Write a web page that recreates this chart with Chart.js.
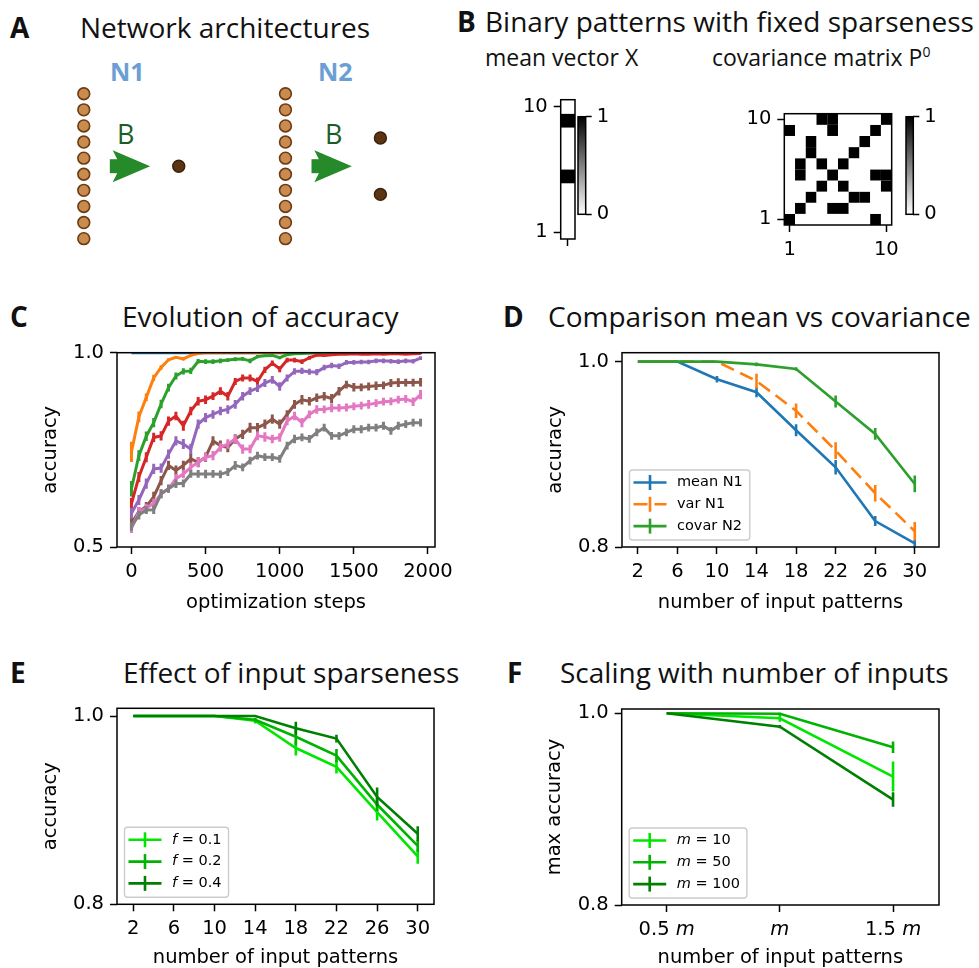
<!DOCTYPE html>
<html>
<head>
<meta charset="utf-8">
<title>Network accuracy figure</title>
<script src="https://cdn.jsdelivr.net/npm/chart.js@4.4.1/dist/chart.umd.min.js"></script>
<style>
  body { margin: 0; background: #fff; }
  #fig { position: relative; width: 979px; height: 968px; overflow: hidden; background: #fff; }
  #fig canvas { position: absolute; }
  .t { position: absolute; font-family: 'Open Sans', sans-serif; font-size: 28px; line-height: 28px; color: #111; white-space: nowrap; }
  .lt { font-weight: 700; }
  .sub { font-size: 23px; line-height: 23px; }
  .sub sup { font-size: 14px; vertical-align: 9px; line-height: 0; }
  .net { font-weight: 700; font-size: 25px; line-height: 25px; color: #6b9fd4; }
  .bw { font-size: 27px; line-height: 27px; color: #1d5c29; }
</style>
</head>
<body>
<div id="fig">
  <div class="t lt" style="left:10px;top:13px">A</div>
  <div class="t" style="left:80px;top:13px">Network architectures</div>
  <div class="t net" style="left:110px;top:59px">N1</div>
  <div class="t net" style="left:318px;top:59px">N2</div>
  <div class="t bw" style="left:117px;top:120px">B</div>
  <div class="t bw" style="left:325px;top:120px">B</div>

  <div class="t lt" style="left:457px;top:7px">B</div>
  <div class="t" style="left:485px;top:7px">Binary patterns with fixed sparseness</div>
  <div class="t sub" style="left:485px;top:46px">mean vector X</div>
  <div class="t sub" style="left:712px;top:46px">covariance matrix P<sup>0</sup></div>

  <div class="t lt" style="left:10px;top:302px">C</div>
  <div class="t" style="left:122px;top:302px">Evolution of accuracy</div>
  <div class="t lt" style="left:503px;top:302px">D</div>
  <div class="t" style="left:548px;top:302px">Comparison mean vs covariance</div>

  <div class="t lt" style="left:10px;top:658px">E</div>
  <div class="t" style="left:123px;top:658px">Effect of input sparseness</div>
  <div class="t lt" style="left:507px;top:658px">F</div>
  <div class="t" style="left:560px;top:658px">Scaling with number of inputs</div>
</div>
<script>
// ---------- data ----------

// A: network diagrams (layer units, one unit = neuron spacing)
const inputRows = [0, 1, 2, 3, 4, 5, 6, 7, 8, 9];
const inputColumns = [0, 12];
const outputN1 = [{ x: 5.65, y: 4.5 }];
const outputN2 = [{ x: 17.65, y: 6.25 }, { x: 17.65, y: 2.75 }];
const arrowSpans = [{ from: 1.55, to: 3.95, y: 4.5 }, { from: 13.55, to: 15.95, y: 4.5 }];

// B: binary mean vector (row 1 first) and covariance matrix (row 1 first)
const meanVector = [0, 0, 0, 0, 1, 0, 0, 0, 1, 0];
const covMatrix = [
  [1, 0, 0, 0, 0, 0, 0, 0, 1, 0],
  [0, 1, 0, 0, 1, 1, 0, 0, 0, 0],
  [0, 0, 1, 0, 0, 0, 1, 1, 0, 0],
  [0, 0, 0, 1, 0, 1, 0, 0, 0, 1],
  [0, 1, 0, 0, 1, 0, 0, 0, 1, 1],
  [0, 1, 0, 1, 0, 1, 0, 0, 0, 0],
  [0, 0, 1, 0, 0, 0, 1, 0, 0, 0],
  [0, 0, 1, 0, 0, 0, 0, 1, 0, 0],
  [1, 0, 0, 0, 1, 0, 0, 0, 1, 0],
  [0, 0, 0, 1, 1, 0, 0, 0, 0, 1]
];

// C: accuracy during optimization, one curve per pattern count
const optSteps = [0, 50, 100, 150, 200, 250, 300, 350, 400, 450, 500, 550, 600, 650, 700, 750, 800, 850, 900, 950,
  1000, 1050, 1100, 1150, 1200, 1250, 1300, 1350, 1400, 1450, 1500, 1550, 1600, 1650, 1700, 1750, 1800, 1850, 1900, 1950];
const accBlue = [1, 1, 1, 1, 1, 1, 1, 1, 1, 1, 1, 1, 1, 1, 1, 1, 1, 1, 1, 1, 1, 1, 1, 1, 1, 1, 1, 1, 1, 1, 1, 1, 1, 1, 1, 1, 1, 1, 1, 1];
const accOrange = [0.745, 0.835, 0.885, 0.935, 0.962, 0.982, 0.988, 0.984, 0.993, 0.998, 1, 1, 1, 1, 1, 1, 1, 1, 1, 1,
  1, 1, 1, 1, 1, 1, 1, 1, 1, 1, 1, 1, 1, 1, 1, 1, 1, 1, 1, 1];
const accGreen = [0.650, 0.735, 0.785, 0.820, 0.868, 0.910, 0.940, 0.952, 0.953, 0.978, 0.977, 0.977, 0.979, 0.981, 0.983, 0.984, 0.979, 0.990, 0.992, 0.993,
  0.987, 0.995, 0.997, 0.998, 0.999, 1, 1, 1, 1, 1, 1, 1, 1, 1, 1, 1, 1, 1, 1, 1];
const accRed = [0.612, 0.680, 0.731, 0.782, 0.786, 0.824, 0.837, 0.812, 0.850, 0.875, 0.879, 0.888, 0.901, 0.888, 0.926, 0.935, 0.935, 0.926, 0.956, 0.973,
  0.958, 0.981, 0.981, 0.977, 0.987, 0.994, 0.993, 0.995, 0.996, 0.996, 0.997, 0.996, 0.996, 0.997, 0.996, 0.997, 0.997, 0.996, 0.997, 0.998];
const accPurple = [0.587, 0.621, 0.663, 0.701, 0.703, 0.739, 0.773, 0.765, 0.752, 0.816, 0.833, 0.841, 0.850, 0.854, 0.867, 0.888, 0.901, 0.909, 0.922, 0.930,
  0.913, 0.935, 0.952, 0.953, 0.951, 0.950, 0.962, 0.967, 0.965, 0.975, 0.975, 0.976, 0.976, 0.979, 0.979, 0.978, 0.977, 0.979, 0.978, 0.986];
const accBrown = [0.561, 0.591, 0.604, 0.629, 0.671, 0.710, 0.697, 0.710, 0.727, 0.718, 0.731, 0.773, 0.761, 0.756, 0.778, 0.790, 0.807, 0.807, 0.816, 0.829,
  0.816, 0.841, 0.867, 0.879, 0.875, 0.884, 0.888, 0.882, 0.901, 0.918, 0.911, 0.911, 0.913, 0.915, 0.916, 0.922, 0.923, 0.923, 0.923, 0.924];
const accPink = [0.548, 0.591, 0.600, 0.612, 0.637, 0.650, 0.676, 0.688, 0.705, 0.718, 0.731, 0.735, 0.756, 0.765, 0.778, 0.752, 0.752, 0.786, 0.783, 0.778,
  0.782, 0.824, 0.837, 0.820, 0.841, 0.854, 0.854, 0.858, 0.858, 0.859, 0.862, 0.864, 0.867, 0.870, 0.874, 0.875, 0.879, 0.881, 0.874, 0.892];
const accGray = [0.553, 0.582, 0.595, 0.596, 0.637, 0.650, 0.663, 0.664, 0.688, 0.688, 0.688, 0.688, 0.687, 0.693, 0.710, 0.705, 0.722, 0.735, 0.731, 0.731,
  0.727, 0.761, 0.778, 0.782, 0.778, 0.795, 0.807, 0.786, 0.786, 0.795, 0.803, 0.803, 0.807, 0.807, 0.812, 0.799, 0.812, 0.816, 0.820, 0.820];

const errBlue = [0, 0, 0, 0, 0, 0, 0, 0, 0, 0, 0, 0, 0, 0, 0, 0, 0, 0, 0, 0, 0, 0, 0, 0, 0, 0, 0, 0, 0, 0, 0, 0, 0, 0, 0, 0, 0, 0, 0, 0];
const errOrange = [0.026, 0.014, 0.010, 0.008, 0.006, 0.004, 0.003, 0.004, 0.002, 0.001, 0, 0, 0, 0, 0, 0, 0, 0, 0, 0,
  0, 0, 0, 0, 0, 0, 0, 0, 0, 0, 0, 0, 0, 0, 0, 0, 0, 0, 0, 0];
const errGreen = [0.020, 0.014, 0.012, 0.012, 0.011, 0.010, 0.009, 0.008, 0.008, 0.006, 0.006, 0.006, 0.006, 0.005, 0.005, 0.005, 0.006, 0.004, 0.003, 0.003,
  0.004, 0.002, 0.002, 0.001, 0.001, 0, 0, 0, 0, 0, 0, 0, 0, 0, 0, 0, 0, 0, 0, 0];
const errRed = [0.014, 0.013, 0.013, 0.012, 0.012, 0.012, 0.011, 0.013, 0.011, 0.011, 0.011, 0.010, 0.010, 0.011, 0.009, 0.009, 0.009, 0.010, 0.008, 0.007,
  0.008, 0.006, 0.006, 0.006, 0.005, 0.003, 0.003, 0.003, 0.002, 0.002, 0.002, 0.002, 0.002, 0.002, 0.002, 0.002, 0.002, 0.002, 0.002, 0.002];
const errPurple = [0.014, 0.013, 0.013, 0.013, 0.012, 0.012, 0.012, 0.013, 0.014, 0.012, 0.012, 0.011, 0.011, 0.011, 0.011, 0.011, 0.010, 0.010, 0.010, 0.010,
  0.011, 0.009, 0.008, 0.008, 0.008, 0.008, 0.007, 0.007, 0.007, 0.006, 0.006, 0.006, 0.006, 0.006, 0.006, 0.006, 0.006, 0.006, 0.006, 0.005];
const errBrown = [0.013, 0.012, 0.012, 0.013, 0.012, 0.012, 0.013, 0.012, 0.012, 0.013, 0.012, 0.012, 0.013, 0.012, 0.012, 0.012, 0.013, 0.012, 0.012, 0.012,
  0.012, 0.011, 0.011, 0.012, 0.011, 0.011, 0.011, 0.012, 0.011, 0.010, 0.011, 0.010, 0.010, 0.011, 0.010, 0.010, 0.011, 0.010, 0.010, 0.011];
const errPink = [0.012, 0.012, 0.011, 0.012, 0.012, 0.011, 0.012, 0.011, 0.012, 0.012, 0.011, 0.012, 0.011, 0.012, 0.011, 0.012, 0.011, 0.011, 0.012, 0.011,
  0.011, 0.011, 0.011, 0.012, 0.010, 0.011, 0.010, 0.011, 0.010, 0.010, 0.010, 0.010, 0.011, 0.010, 0.010, 0.010, 0.010, 0.010, 0.011, 0.012];
const errGray = [0.011, 0.011, 0.010, 0.011, 0.011, 0.010, 0.011, 0.010, 0.010, 0.010, 0.011, 0.010, 0.010, 0.010, 0.011, 0.010, 0.010, 0.010, 0.010, 0.010,
  0.010, 0.010, 0.011, 0.010, 0.010, 0.010, 0.010, 0.010, 0.010, 0.010, 0.010, 0.010, 0.010, 0.010, 0.010, 0.010, 0.010, 0.010, 0.010, 0.010];

// D: mean vs covariance decoding
const patternCounts = [2, 6, 10, 14, 18, 22, 26, 30];
const meanN1 = [1.0, 1.0, 0.981, 0.967, 0.926, 0.886, 0.828, 0.804];
const meanN1Err = [0, 0, 0.0036, 0.0054, 0.0064, 0.0079, 0.0054, 0.0036];
const varN1 = [1.0, 1.0, 1.0, 0.979, 0.947, 0.904, 0.858, 0.817];
const varN1Err = [0, 0, 0, 0.0079, 0.0079, 0.009, 0.009, 0.010];
const covarN2 = [1.0, 1.0, 1.0, 0.997, 0.992, 0.957, 0.922, 0.868];
const covarN2Err = [0, 0, 0, 0.002, 0.002, 0.0064, 0.0064, 0.009];

// E: input sparseness f
const sparseF01 = [1.0, 1.0, 1.0, 0.995, 0.966, 0.946, 0.898, 0.851];
const sparseF01Err = [0, 0, 0, 0.003, 0.008, 0.007, 0.009, 0.008];
const sparseF02 = [1.0, 1.0, 1.0, 0.996, 0.978, 0.958, 0.906, 0.862];
const sparseF02Err = [0, 0, 0, 0.002, 0.009, 0.007, 0.007, 0.0064];
const sparseF04 = [1.0, 1.0, 1.0, 1.0, 0.987, 0.976, 0.914, 0.875];
const sparseF04Err = [0, 0, 0, 0, 0.007, 0.0042, 0.010, 0.008];

// F: scaling with number of inputs m (pattern count relative to m)
const relPatterns = [0.5, 1.0, 1.5];
const maxAccM10 = [1.0, 0.9948, 0.934];
const maxAccM10Err = [0, 0.0035, 0.0156];
const maxAccM50 = [1.0, 0.9995, 0.9646];
const maxAccM50Err = [0, 0.001, 0.006];
const maxAccM100 = [1.0, 0.986, 0.910];
const maxAccM100Err = [0, 0.0017, 0.0076];

const tab10 = ['#1f77b4', '#ff7f0e', '#2ca02c', '#d62728', '#9467bd', '#8c564b', '#e377c2', '#7f7f7f'];
const greens = ['#00e600', '#00b300', '#008000'];

// ---------- chart setup ----------
Chart.defaults.font.family = "'DejaVu Sans', sans-serif";
Chart.defaults.color = '#000';
Chart.defaults.animation = false;
Chart.defaults.responsive = false;
Chart.defaults.devicePixelRatio = 1;
Chart.defaults.plugins.legend.display = false;
Chart.defaults.plugins.tooltip.enabled = false;

const TICK_FONT = { family: "'DejaVu Sans', sans-serif", size: 19.5, lineHeight: 1.2 };

function addCanvas(left, top, w, h) {
  const c = document.createElement('canvas');
  c.width = w; c.height = h;
  c.style.left = left + 'px'; c.style.top = top + 'px';
  c.style.width = w + 'px'; c.style.height = h + 'px';
  document.getElementById('fig').appendChild(c);
  return c;
}

// linear axis with fixed tick list and a fixed box size, so the plot area lands where wanted
function axis(o) {
  const horizontal = o.pos === 'bottom' || o.pos === 'top';
  return {
    type: 'linear', position: o.pos, min: o.min, max: o.max, display: true,
    afterBuildTicks: s => { s.ticks = o.ticks.map(v => ({ value: v })); },
    afterFit: s => { if (horizontal) s.height = o.size; else s.width = o.size; },
    grid: { display: true, drawOnChartArea: false, drawTicks: true, tickLength: o.tickLen || 7, tickWidth: 1.5, tickColor: '#000' },
    border: { display: false },
    ticks: {
      font: TICK_FONT, color: '#000', padding: o.pad == null ? 6 : o.pad,
      maxRotation: 0, minRotation: 0, autoSkip: false,
      callback: o.fmt || (v => String(v))
    },
    title: o.title
      ? { display: true, text: o.title, color: '#000', font: { size: 19.5, lineHeight: 1 }, padding: o.titlePad }
      : { display: false }
  };
}

const hidden = (min, max) => ({ type: 'linear', min, max, display: false });

// box around the plot area
const frame = {
  id: 'frame',
  afterDraw(chart) {
    const { ctx, chartArea: a } = chart;
    ctx.save();
    ctx.strokeStyle = '#000';
    ctx.lineWidth = 1.5;
    ctx.strokeRect(a.left, a.top, a.width, a.height);
    ctx.restore();
  }
};

// vertical error bars read from dataset.errors
const errorBars = {
  id: 'errorBars',
  afterDatasetDraw(chart, args) {
    const ds = chart.data.datasets[args.index];
    if (!ds.errors) return;
    const { ctx, chartArea: a, scales: { x, y } } = chart;
    ctx.save();
    ctx.beginPath();
    ctx.rect(a.left, a.top, a.width, a.height);
    ctx.clip();
    ctx.strokeStyle = ds.borderColor;
    ctx.lineWidth = ds.borderWidth;
    ctx.setLineDash([]);
    ds.data.forEach((p, i) => {
      const e = ds.errors[i];
      if (!e) return;
      const px = x.getPixelForValue(p.x);
      ctx.beginPath();
      ctx.moveTo(px, y.getPixelForValue(p.y - e));
      ctx.lineTo(px, y.getPixelForValue(p.y + e));
      ctx.stroke();
    });
    ctx.restore();
  }
};

// legend in the lower left corner, matplotlib style, with mixed italic text
const errLegend = {
  id: 'errLegend',
  afterDraw(chart, args, o) {
    if (!o || !o.items) return;
    const { ctx, chartArea: a } = chart;
    const fontOf = st => (st === 'i' ? 'italic ' : '') + '14.5px "DejaVu Sans"';
    ctx.save();
    let textW = 0;
    o.items.forEach(it => {
      let w = 0;
      it.parts.forEach(([s, st]) => { ctx.font = fontOf(st); w += ctx.measureText(s).width; });
      textW = Math.max(textW, w);
    });
    const bx = a.left + 7.5, bh = 70;
    const by = a.bottom - 7 - bh;
    const bw = 47.5 + textW + 7;
    ctx.beginPath();
    ctx.roundRect(bx, by, bw, bh, 3);
    ctx.fillStyle = 'rgba(255,255,255,0.8)';
    ctx.fill();
    ctx.lineWidth = 1.4;
    ctx.strokeStyle = '#cccccc';
    ctx.stroke();
    o.items.forEach((it, i) => {
      const ds = chart.data.datasets[it.ds];
      const yc = by + 12.5 + i * 21.8;
      const x0 = bx + 4, x1 = x0 + 33, xm = (x0 + x1) / 2;
      ctx.strokeStyle = ds.borderColor;
      ctx.lineWidth = ds.borderWidth;
      ctx.setLineDash(ds.borderDash || []);
      ctx.beginPath(); ctx.moveTo(x0, yc); ctx.lineTo(x1, yc); ctx.stroke();
      ctx.setLineDash([]);
      ctx.beginPath(); ctx.moveTo(xm, yc - 7.5); ctx.lineTo(xm, yc + 7.5); ctx.stroke();
      let tx = bx + 47.5;
      ctx.fillStyle = '#000';
      ctx.textBaseline = 'middle';
      ctx.textAlign = 'left';
      it.parts.forEach(([s, st]) => { ctx.font = fontOf(st); ctx.fillText(s, tx, yc); tx += ctx.measureText(s).width; });
    });
    ctx.restore();
  }
};

// x tick labels with an italic symbol
const mixedTicks = {
  id: 'mixedTicks',
  afterDraw(chart, args, o) {
    if (!o || !o.labels) return;
    const { ctx, chartArea: a, scales: { x } } = chart;
    const fontOf = st => (st === 'i' ? 'italic ' : '') + '19.5px "DejaVu Sans"';
    ctx.save();
    ctx.fillStyle = '#000';
    ctx.textBaseline = 'middle';
    ctx.textAlign = 'left';
    o.values.forEach((v, i) => {
      const parts = o.labels[i];
      let w = 0;
      parts.forEach(([s, st]) => { ctx.font = fontOf(st); w += ctx.measureText(s).width; });
      let tx = x.getPixelForValue(v) - w / 2;
      parts.forEach(([s, st]) => { ctx.font = fontOf(st); ctx.fillText(s, tx, a.bottom + 24.7); tx += ctx.measureText(s).width; });
    });
    ctx.restore();
  }
};

// binary cells of a heatmap, one cell per data point
const cells = {
  id: 'cells',
  beforeDatasetsDraw(chart) {
    const { ctx, scales: { x, y } } = chart;
    ctx.save();
    chart.data.datasets[0].data.forEach(p => {
      const x0 = x.getPixelForValue(p.x - 0.5), x1 = x.getPixelForValue(p.x + 0.5);
      const y0 = y.getPixelForValue(p.y + 0.5), y1 = y.getPixelForValue(p.y - 0.5);
      const g = Math.round(255 * (1 - p.v));
      ctx.fillStyle = `rgb(${g},${g},${g})`;
      ctx.fillRect(x0, y0, x1 - x0, y1 - y0);
    });
    ctx.restore();
  }
};

// white-to-black colour bar
const colorBar = {
  id: 'colorBar',
  beforeDatasetsDraw(chart) {
    const { ctx, chartArea: a, scales: { y } } = chart;
    const grad = ctx.createLinearGradient(0, y.getPixelForValue(0), 0, y.getPixelForValue(1));
    grad.addColorStop(0, '#ffffff');
    grad.addColorStop(1, '#000000');
    ctx.save();
    ctx.fillStyle = grad;
    ctx.fillRect(a.left, a.top, a.width, a.height);
    ctx.restore();
  }
};

// fat arrows between layers
const arrows = {
  id: 'arrows',
  beforeDatasetsDraw(chart) {
    const { ctx, scales: { x, y } } = chart;
    ctx.save();
    ctx.fillStyle = '#268a2b';
    arrowSpans.forEach(s => {
      const x0 = x.getPixelForValue(s.from), x1 = x.getPixelForValue(s.to), yc = y.getPixelForValue(s.y);
      const len = x1 - x0;
      ctx.fillRect(x0, yc - 7, len * 0.28, 14);
      ctx.beginPath();
      ctx.moveTo(x1, yc);
      ctx.lineTo(x0 + len * 0.07, yc - 16);
      ctx.lineTo(x0 + len * 0.27, yc);
      ctx.lineTo(x0 + len * 0.07, yc + 16);
      ctx.closePath();
      ctx.fill();
    });
    ctx.restore();
  }
};

function series(xs, ys, errs, color, extra) {
  return Object.assign({
    data: xs.map((x, i) => ({ x, y: ys[i] })),
    errors: errs,
    borderColor: color,
    backgroundColor: color,
    borderWidth: 2.6,
    pointRadius: 0,
    tension: 0,
    clip: 0
  }, extra);
}

// ---------- A: network architectures ----------
const inputPoints = [];
inputColumns.forEach(cx => inputRows.forEach(r => inputPoints.push({ x: cx, y: r })));
new Chart(addCanvas(0, 60, 440, 200), {
  type: 'scatter',
  data: {
    datasets: [
      { data: inputPoints, pointRadius: 5.9, pointBackgroundColor: '#c98b4e', pointBorderColor: '#6b3b14', pointBorderWidth: 1.6 },
      { data: outputN1.concat(outputN2), pointRadius: 6, pointBackgroundColor: '#5a3413', pointBorderColor: '#3b2009', pointBorderWidth: 1.4 }
    ]
  },
  options: {
    layout: { padding: 0 },
    scales: { x: hidden(-4.54, 20.75), y: hidden(-0.86, 10.63) }
  },
  plugins: [arrows]
});

// ---------- B: mean vector and covariance matrix ----------
function heatmap(canvas, cellData, xr, yr, xTicks, yTicks, sizes, xLabels) {
  return new Chart(canvas, {
    type: 'scatter',
    data: { datasets: [{ data: cellData, pointRadius: 0 }] },
    options: {
      layout: { padding: { top: sizes.top, right: sizes.right, left: 0, bottom: 0 } },
      scales: {
        x: axis({ pos: 'bottom', min: xr[0], max: xr[1], ticks: xTicks, size: sizes.xH, pad: 6,
                  fmt: xLabels ? (v => String(v)) : (() => '') }),
        y: axis({ pos: 'left', min: yr[0], max: yr[1], ticks: yTicks, size: sizes.yW, pad: 6 })
      }
    },
    plugins: [cells, frame]
  });
}

function colorbar(canvas, yW) {
  return new Chart(canvas, {
    type: 'scatter',
    data: { datasets: [{ data: [], pointRadius: 0 }] },
    options: {
      layout: { padding: { top: 14, bottom: 14, left: 8, right: 0 } },
      scales: {
        x: hidden(0, 1),
        y: axis({ pos: 'right', min: 0, max: 1, ticks: [0, 1], size: yW, tickLen: 6, pad: 5 })
      }
    },
    plugins: [colorBar, frame]
  });
}

heatmap(addCanvas(520, 82, 60, 175),
  meanVector.map((v, i) => ({ x: 0, y: i + 1, v })),
  [-0.5, 0.5], [0.5, 10.5], [0], [1, 10],
  { top: 10, right: 5, yW: 40.7, xH: 18 }, false);
colorbar(addCanvas(570, 100, 50, 131), 34.3);

const covCells = [];
covMatrix.forEach((row, r) => row.forEach((v, c) => covCells.push({ x: c + 1, y: r + 1, v })));
heatmap(addCanvas(740, 96, 165, 170), covCells,
  [0.5, 10.5], [0.5, 10.5], [1, 10], [1, 10],
  { top: 10.7, right: 5.7, yW: 44.3, xH: 41 }, true);
colorbar(addCanvas(898, 100, 60, 131), 44.7);

// ---------- C: evolution of accuracy ----------
const curvesC = [accBlue, accOrange, accGreen, accRed, accPurple, accBrown, accPink, accGray];
const errsC = [errBlue, errOrange, errGreen, errRed, errPurple, errBrown, errPink, errGray];
new Chart(addCanvas(0, 335, 460, 280), {
  type: 'line',
  data: {
    datasets: curvesC.map((ys, i) => series(optSteps, ys, errsC[i], tab10[i], { order: curvesC.length - i, borderWidth: 3 }))
  },
  options: {
    layout: { padding: { top: 16, right: 25, left: 0, bottom: 0 } },
    scales: {
      x: axis({ pos: 'bottom', min: -97.5, max: 2047.5, ticks: [0, 500, 1000, 1500, 2000], size: 68,
                title: 'optimization steps', titlePad: { top: 0, bottom: 2.25 } }),
      y: axis({ pos: 'left', min: 0.5, max: 1.0, ticks: [0.5, 1.0], size: 117, fmt: v => v.toFixed(1),
                title: 'accuracy', titlePad: { top: 41.25, bottom: 0 } })
    }
  },
  plugins: [errorBars, frame]
});

// ---------- D: comparison mean vs covariance ----------
new Chart(addCanvas(480, 335, 499, 280), {
  type: 'line',
  data: {
    datasets: [
      series(patternCounts, meanN1, meanN1Err, tab10[0], { order: 3 }),
      series(patternCounts, varN1, varN1Err, tab10[1], { order: 2, borderDash: [14, 7] }),
      series(patternCounts, covarN2, covarN2Err, tab10[2], { order: 1 })
    ]
  },
  options: {
    layout: { padding: { top: 17, right: 40, left: 0, bottom: 0 } },
    scales: {
      x: axis({ pos: 'bottom', min: 0.4, max: 32.45, ticks: patternCounts, size: 68,
                title: 'number of input patterns', titlePad: { top: 0, bottom: 2.25 } }),
      y: axis({ pos: 'left', min: 0.8, max: 1.0096, ticks: [0.8, 1.0], size: 142, fmt: v => v.toFixed(1),
                title: 'accuracy', titlePad: { top: 66.25, bottom: 0 } })
    },
    plugins: {
      errLegend: { items: [
        { ds: 0, parts: [['mean N1', 'n']] },
        { ds: 1, parts: [['var N1', 'n']] },
        { ds: 2, parts: [['covar N2', 'n']] }
      ] }
    }
  },
  plugins: [errorBars, frame, errLegend]
});

// ---------- E: effect of input sparseness ----------
new Chart(addCanvas(0, 690, 460, 278), {
  type: 'line',
  data: {
    datasets: [
      series(patternCounts, sparseF01, sparseF01Err, greens[0], { order: 3 }),
      series(patternCounts, sparseF02, sparseF02Err, greens[1], { order: 2 }),
      series(patternCounts, sparseF04, sparseF04Err, greens[2], { order: 1 })
    ]
  },
  options: {
    layout: { padding: { top: 18.3, right: 26, left: 0, bottom: 0 } },
    scales: {
      x: axis({ pos: 'bottom', min: 0.4, max: 31.6, ticks: patternCounts, size: 63.7,
                title: 'number of input patterns', titlePad: { top: 0, bottom: 0 } }),
      y: axis({ pos: 'left', min: 0.8, max: 1.0082, ticks: [0.8, 1.0], size: 117, fmt: v => v.toFixed(1),
                title: 'accuracy', titlePad: { top: 41.25, bottom: 0 } })
    },
    plugins: {
      errLegend: { items: [
        { ds: 0, parts: [['f', 'i'], [' = 0.1', 'n']] },
        { ds: 1, parts: [['f', 'i'], [' = 0.2', 'n']] },
        { ds: 2, parts: [['f', 'i'], [' = 0.4', 'n']] }
      ] }
    }
  },
  plugins: [errorBars, frame, errLegend]
});

// ---------- F: scaling with number of inputs ----------
new Chart(addCanvas(480, 690, 499, 278), {
  type: 'line',
  data: {
    datasets: [
      series(relPatterns, maxAccM10, maxAccM10Err, greens[0], { order: 3 }),
      series(relPatterns, maxAccM50, maxAccM50Err, greens[1], { order: 2 }),
      series(relPatterns, maxAccM100, maxAccM100Err, greens[2], { order: 1 })
    ]
  },
  options: {
    layout: { padding: { top: 19, right: 40, left: 0, bottom: 0 } },
    scales: {
      x: axis({ pos: 'bottom', min: 0.3015, max: 1.703, ticks: relPatterns, size: 63,
                fmt: () => '', title: 'number of input patterns', titlePad: { top: 0, bottom: 0 } }),
      y: axis({ pos: 'left', min: 0.8, max: 1.0045, ticks: [0.8, 1.0], size: 141.7, fmt: v => v.toFixed(1),
                title: 'max accuracy', titlePad: { top: 65.25, bottom: 0 } })
    },
    plugins: {
      errLegend: { items: [
        { ds: 0, parts: [['m', 'i'], [' = 10', 'n']] },
        { ds: 1, parts: [['m', 'i'], [' = 50', 'n']] },
        { ds: 2, parts: [['m', 'i'], [' = 100', 'n']] }
      ] },
      mixedTicks: {
        values: relPatterns,
        labels: [[['0.5 ', 'n'], ['m', 'i']], [['m', 'i']], [['1.5 ', 'n'], ['m', 'i']]]
      }
    }
  },
  plugins: [errorBars, frame, errLegend, mixedTicks]
});
</script>
</body>
</html>
